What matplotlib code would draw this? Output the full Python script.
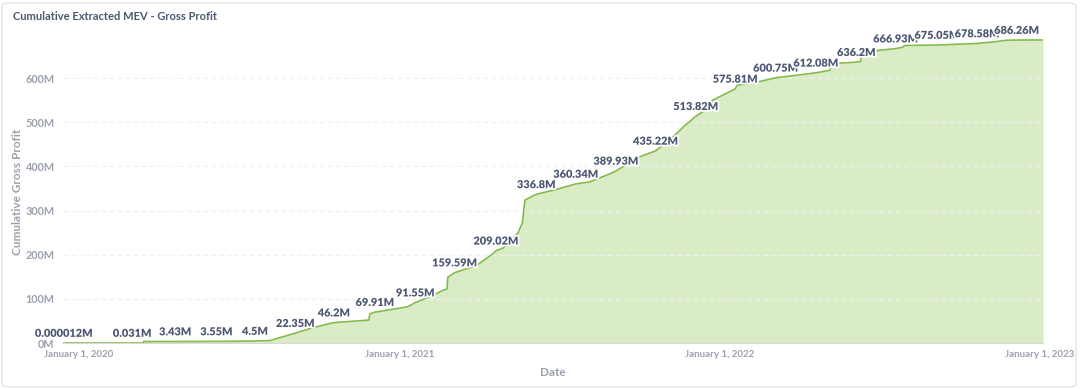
import matplotlib
matplotlib.use("Agg")
import matplotlib.pyplot as plt
import matplotlib.dates as mdates
import matplotlib.patheffects as pe
from matplotlib.patches import FancyBboxPatch
import pandas as pd

plt.rcParams["font.family"] = ["Lato", "DejaVu Sans"]

# Cumulative gross profit in millions
dates = [
    "2019-12-15", "2020-03-02", "2020-03-14", "2020-03-15", "2020-04-20",
    "2020-06-06", "2020-07-20", "2020-08-06", "2020-09-04", "2020-09-21",
    "2020-09-29", "2020-10-14", "2020-10-18", "2020-11-17", "2020-11-27",
    "2020-11-28", "2020-12-04", "2021-01-10", "2021-01-19", "2021-02-08",
    "2021-02-20", "2021-02-24", "2021-02-25", "2021-03-05", "2021-03-30",
    "2021-04-18", "2021-04-21", "2021-04-29", "2021-05-16", "2021-05-21",
    "2021-05-24", "2021-06-06", "2021-06-25", "2021-07-21", "2021-08-06",
    "2021-08-31", "2021-09-05", "2021-10-02", "2021-10-20", "2021-11-09",
    "2021-11-21", "2021-12-05", "2021-12-13", "2021-12-24", "2022-01-19",
    "2022-01-21", "2022-02-15", "2022-03-06", "2022-04-21", "2022-05-07",
    "2022-05-09", "2022-06-06", "2022-06-11", "2022-06-12", "2022-07-21",
    "2022-07-29", "2022-07-31", "2022-09-06", "2022-10-22", "2022-11-09",
    "2022-11-25", "2022-12-06", "2023-01-05",
]
profit_m = [
    0.000012, 0.031, 0.04, 3.3, 3.43,
    3.55, 4.5, 5.5, 22.35, 33,
    37, 44.5, 46.2, 50.5, 52,
    66, 69.91, 82, 91.55, 108,
    120, 122, 149, 159.59, 176,
    203, 209.02, 215, 249, 272,
    324, 336.8, 346, 360.34, 365,
    385, 389.93, 422, 435.22, 467,
    490, 513.82, 524, 550, 575.81,
    584, 592, 600.75, 612.08, 618,
    633, 636.2, 637.5, 659, 666.93,
    670, 674, 675.05, 678.58, 682,
    686, 686.26, 686.5,
]

# points that carry a value label
label_dates = [
    "2019-12-15", "2020-03-02", "2020-04-20", "2020-06-06", "2020-07-20",
    "2020-09-04", "2020-10-18", "2020-12-04", "2021-01-19", "2021-03-05",
    "2021-04-21", "2021-06-06", "2021-07-21", "2021-09-05", "2021-10-20",
    "2021-12-05", "2022-01-19", "2022-03-06", "2022-04-21", "2022-06-06",
    "2022-07-21", "2022-09-06", "2022-10-22", "2022-12-06",
]

y_ticks = [0, 100, 200, 300, 400, 500, 600]
x_ticks = ["2020-01-01", "2021-01-01", "2022-01-01", "2023-01-01"]

x = pd.to_datetime(dates)
line_color = "#84bb4c"
fill_color = "#d9ecc6"
text_dark = "#4c5773"
text_light = "#9ba0ad"

fig = plt.figure(figsize=(10.8, 3.89), dpi=100)
ax = fig.add_axes([63 / 1080, 46 / 389, 980 / 1080, 309 / 389])

ax.fill_between(x, profit_m, 0, color=fill_color, lw=0, zorder=1)
ax.plot(x, profit_m, color=line_color, lw=1.2, zorder=2)

def fmt_label(v):
    if v < 0.01:
        return f"{v:.6f}".rstrip("0") + "M"
    return f"{round(v, 3):g}M"

for d in label_dates:
    i = dates.index(d)
    ax.annotate(fmt_label(profit_m[i]), (x[i], profit_m[i]), xytext=(0, 3),
                textcoords="offset points", ha="center", va="bottom",
                fontsize=7.9, fontweight="heavy", color=text_dark, zorder=3,
                path_effects=[pe.withStroke(linewidth=2.5, foreground="white")])

ax.set_xlim(pd.Timestamp("2019-12-14"), pd.Timestamp("2023-01-05"))
ax.set_ylim(0, 700)
ax.set_yticks(y_ticks)
ax.set_yticklabels([f"{t}M" for t in y_ticks])
ax.set_xticks(pd.to_datetime(x_ticks))
ax.xaxis.set_major_formatter(mdates.DateFormatter("%B %-d, %Y"))

ax.tick_params(axis="both", length=0, labelcolor=text_light)
ax.tick_params(axis="y", pad=6, labelsize=7.8)
ax.tick_params(axis="x", pad=5, labelsize=7.0)
for lab in ax.get_xticklabels() + ax.get_yticklabels():
    lab.set_fontweight("bold")

ax.grid(axis="y", color="#eeeff2", linestyle=(0, (4, 3)), lw=0.8, zorder=0)
for s in ["top", "right", "left"]:
    ax.spines[s].set_visible(False)
ax.spines["bottom"].set_color("#d6d8dc")
ax.spines["bottom"].set_linewidth(0.8)

ax.set_xlabel("Date", fontsize=8.5, fontweight="bold", color=text_light, labelpad=6)
ax.set_ylabel("Cumulative Gross Profit", fontsize=8.5, fontweight="bold",
              color=text_light)
ax.yaxis.set_label_coords(-0.041, 0.49)

fig.text(13 / 1080, 1 - 16 / 389, "Cumulative Extracted MEV - Gross Profit",
         fontsize=8.0, fontweight="bold", color=text_dark, va="center", ha="left")

card = FancyBboxPatch((2 / 1080, 2 / 389), 1074 / 1080, 384 / 389,
                      boxstyle="round,pad=0,rounding_size=0.008",
                      transform=fig.transFigure, fill=False,
                      edgecolor="#e3e5e8", lw=1.0)
fig.patches.append(card)

fig.savefig("out.png", dpi=100)
